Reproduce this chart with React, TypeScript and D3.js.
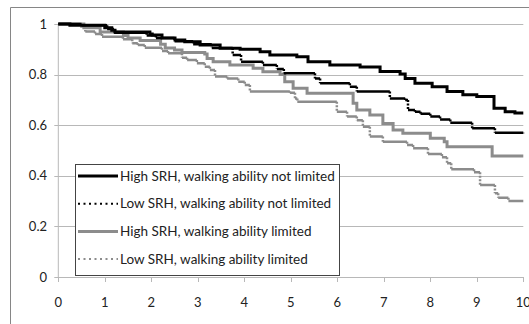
import React from "react";
import * as d3 from "d3";

const xTicks = [0, 1, 2, 3, 4, 5, 6, 7, 8, 9, 10];
const yTicks = [0, 0.2, 0.4, 0.6, 0.8, 1];
const yTickLabels = ["0", "0.2", "0.4", "0.6", "0.8", "1"];

const seriesNames = [
  "High SRH, walking ability not limited",
  "Low SRH, walking ability not limited",
  "High SRH, walking ability limited",
  "Low SRH, walking ability limited",
];

// [time, survival from that time on]
const highNotLimited: [number, number][] = [
  [0, 1.0], [0.25, 0.995], [1.0, 0.985], [1.15, 0.975], [1.22, 0.968], [1.97, 0.96],
  [2.02, 0.957], [2.23, 0.945], [2.51, 0.937], [2.72, 0.93], [3.05, 0.917], [3.48, 0.904],
  [3.91, 0.9], [4.34, 0.89], [4.55, 0.877], [5.13, 0.871], [5.37, 0.851], [5.84, 0.838],
  [6.49, 0.83], [6.92, 0.812], [7.35, 0.802], [7.46, 0.785], [7.67, 0.766], [8.04, 0.752],
  [8.36, 0.733], [8.7, 0.72], [9.0, 0.713], [9.37, 0.667], [9.61, 0.653], [9.82, 0.648],
  [10, 0.648],
];

const lowNotLimited: [number, number][] = [
  [0, 1.0], [0.5, 0.995], [1.05, 0.98], [1.2, 0.965], [1.9, 0.955], [2.1, 0.945],
  [2.5, 0.932], [2.9, 0.92], [3.3, 0.905], [3.75, 0.877], [3.93, 0.851], [4.4, 0.838],
  [4.7, 0.822], [4.85, 0.805], [5.52, 0.785], [5.63, 0.766], [6.27, 0.752], [6.42, 0.733],
  [7.13, 0.706], [7.46, 0.7], [7.52, 0.66], [7.67, 0.653], [7.79, 0.645], [8.0, 0.634],
  [8.21, 0.623], [8.43, 0.61], [8.9, 0.588], [9.39, 0.57], [10, 0.568],
];

const highLimited: [number, number][] = [
  [0, 1.0], [0.55, 0.985], [0.9, 0.968], [1.4, 0.955], [1.5, 0.945], [1.76, 0.935],
  [2.2, 0.92], [2.3, 0.905], [2.5, 0.897], [2.66, 0.887], [3.15, 0.881], [3.2, 0.864],
  [3.33, 0.851], [3.69, 0.838], [4.19, 0.825], [4.4, 0.811], [4.77, 0.8], [4.87, 0.772],
  [5.05, 0.746], [5.35, 0.726], [6.34, 0.687], [6.42, 0.66], [6.7, 0.64], [6.98, 0.607],
  [7.2, 0.581], [7.41, 0.568], [8.0, 0.548], [8.3, 0.535], [8.36, 0.515], [9.33, 0.478],
  [10, 0.478],
];

const lowLimited: [number, number][] = [
  [0, 1.0], [0.47, 0.99], [0.58, 0.97], [0.79, 0.96], [0.94, 0.95], [1.39, 0.94],
  [1.59, 0.924], [1.71, 0.917], [1.86, 0.906], [2.23, 0.893], [2.36, 0.884], [2.66, 0.867],
  [2.77, 0.858], [2.98, 0.845], [3.15, 0.831], [3.26, 0.818], [3.37, 0.792], [3.63, 0.785],
  [3.87, 0.772], [4.01, 0.759], [4.12, 0.733], [4.98, 0.728], [5.09, 0.706], [5.14, 0.693],
  [5.99, 0.653], [6.21, 0.634], [6.42, 0.62], [6.55, 0.594], [6.7, 0.555], [6.98, 0.535],
  [7.5, 0.522], [7.63, 0.509], [7.95, 0.486], [8.25, 0.473], [8.36, 0.45], [8.45, 0.426],
  [8.94, 0.414], [9.07, 0.364], [9.39, 0.331], [9.46, 0.313], [9.68, 0.3], [10, 0.3],
];

const seriesData = [highNotLimited, lowNotLimited, highLimited, lowLimited];
const seriesColor = ["#000000", "#000000", "#8c8c8c", "#8c8c8c"];
const seriesWidth = [3, 2.5, 3, 2.5];
const seriesDotted = [false, true, false, true];

const W = 529;
const H = 324;
const left = 58.3;
const right = 523.3;
const top = 24;
const bottom = 277;

export default function App() {
  const x = d3.scaleLinear().domain([0, 10]).range([left, right]);
  const y = d3.scaleLinear().domain([0, 1]).range([bottom, top]);
  const stepLine = d3
    .line<[number, number]>()
    .x((d) => x(d[0]))
    .y((d) => y(d[1]))
    .curve(d3.curveStepAfter);

  const hPath = (data: [number, number][]) =>
    data
      .slice(0, -1)
      .map((d, i) => `M${x(d[0])},${y(d[1])}H${x(data[i + 1][0])}`)
      .join("");
  const vPath = (data: [number, number][]) =>
    data
      .slice(1)
      .map((d, i) => `M${x(d[0])},${y(data[i][1])}V${y(d[1])}`)
      .join("");

  const font = "Lato, 'Open Sans', sans-serif";
  const legendX = 75;
  const legendY = 164;
  const legendW = 264;
  const legendH = 111;
  const rowH = 27.7;

  return (
    <svg
      width={W}
      height={H}
      style={{ position: "absolute", left: 0, top: 0, background: "#fff" }}
      fontFamily={font}
    >
      <rect x={0} y={0} width={W} height={H} fill="#fff" />
      <path d={`M10.5,${H}V7.5H${W}`} fill="none" stroke="#868686" strokeWidth={1} />
      {yTicks.slice(1).map((t) => (
        <line key={t} x1={left} x2={right} y1={Math.round(y(t)) + 0.5} y2={Math.round(y(t)) + 0.5} stroke="#b8b8b8" strokeWidth={1} />
      ))}
      <line x1={left} x2={left} y1={top} y2={bottom} stroke="#b8b8b8" />
      <line x1={left} x2={right} y1={bottom + 0.5} y2={bottom + 0.5} stroke="#b8b8b8" />
      {yTicks.map((t) => (
        <line key={"yt" + t} x1={left - 4} x2={left} y1={Math.round(y(t)) + 0.5} y2={Math.round(y(t)) + 0.5} stroke="#b8b8b8" />
      ))}
      {xTicks.map((t) => (
        <line key={"xt" + t} x1={Math.round(x(t)) + 0.5} x2={Math.round(x(t)) + 0.5} y1={bottom} y2={bottom + 5} stroke="#b8b8b8" />
      ))}
      {yTicks.map((t, i) => (
        <text key={"yl" + t} x={47} y={y(t)} dy="0.35em" textAnchor="end" fontSize={13} fill="#222">
          {yTickLabels[i]}
        </text>
      ))}
      {xTicks.map((t) => (
        <text key={"xl" + t} x={x(t)} y={307} textAnchor="middle" fontSize={13} fill="#222">
          {t}
        </text>
      ))}
      {[3, 2, 1, 0].map((i) =>
        seriesDotted[i] ? (
          <g key={"s" + i}>
            <path d={hPath(seriesData[i])} fill="none" stroke={seriesColor[i]} strokeWidth={seriesWidth[i]} />
            <path d={vPath(seriesData[i])} fill="none" stroke={seriesColor[i]} strokeWidth={seriesWidth[i]} strokeDasharray="2,1.5" />
          </g>
        ) : (
          <path key={"s" + i} d={stepLine(seriesData[i]) || ""} fill="none" stroke={seriesColor[i]} strokeWidth={seriesWidth[i]} />
        )
      )}
      <rect x={legendX + 0.5} y={legendY + 0.5} width={legendW} height={legendH} fill="#fff" stroke="#444" strokeWidth={1} />
      {seriesNames.map((name, i) => {
        const cy = legendY + 12 + i * rowH;
        return (
          <g key={name}>
            <line
              x1={legendX + 3}
              x2={legendX + 43}
              y1={cy}
              y2={cy}
              stroke={seriesColor[i]}
              strokeWidth={seriesDotted[i] ? 2 : 3}
              strokeDasharray={seriesDotted[i] ? "2,3.5" : undefined}
            />
            <text x={legendX + 45} y={cy} dy="0.35em" fontSize={13.5} fill="#222">
              {name}
            </text>
          </g>
        );
      })}
    </svg>
  );
}
